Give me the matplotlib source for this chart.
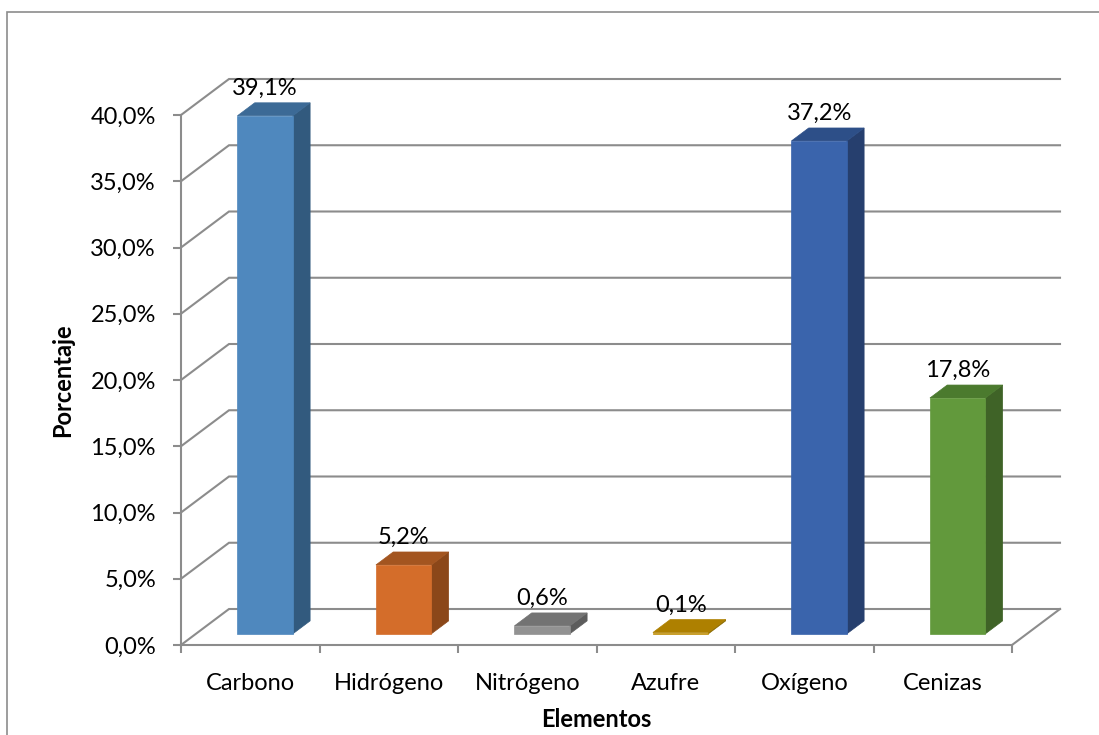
import matplotlib.pyplot as plt
from matplotlib.patches import Polygon, Rectangle

# Composicion elemental (%)
elementos = ['Carbono', 'Hidrógeno', 'Nitrógeno', 'Azufre', 'Oxígeno', 'Cenizas']
porcentaje = [39.1, 5.2, 0.6, 0.1, 37.2, 17.8]
yticks = [0, 5, 10, 15, 20, 25, 30, 35, 40]

# colores: cara frontal, lateral y superior
c_frente = ['#4f88be', '#d46d2a', '#929292', '#c09008', '#3a64ac', '#62993c']
c_lado = ['#325a7e', '#8b4719', '#5c5c5c', '#8a6a00', '#263f6e', '#3f6327']
c_techo = ['#3c6a96', '#a35520', '#737373', '#ae8000', '#2d4f88', '#4b7a2e']

plt.rcParams['font.family'] = ['Lato', 'DejaVu Sans']
gris = '#8c8c8c'

fig = plt.figure(figsize=(10.99, 7.35), dpi=100)
ax = fig.add_axes([181 / 1099, 90 / 735, 831 / 1099, 530 / 735])
ax.set_xlim(0, len(elementos))
ax.set_ylim(0, 40)

# profundidad del "3D" en unidades de datos
DX, DY = 0.3466, 2.717
f1, f2 = 0.31, 0.67
ancho = 0.4

# pared del fondo y lateral
for t in yticks:
    ax.plot([0, DX, len(elementos) + DX], [t, t + DY, t + DY],
            color=gris, lw=1.5, clip_on=False, zorder=1, solid_joinstyle='miter')
ax.plot([len(elementos), len(elementos) + DX], [0, DY], color=gris, lw=1.5,
        clip_on=False, zorder=1)

for i, v in enumerate(porcentaje):
    x0 = i + 0.5 - ancho / 2 + f1 * DX
    x1 = x0 + ancho
    y0 = f1 * DY
    dx = (f2 - f1) * DX
    dy = (f2 - f1) * DY
    frente = [(x0, y0), (x1, y0), (x1, y0 + v), (x0, y0 + v)]
    lado = [(x1, y0), (x1 + dx, y0 + dy), (x1 + dx, y0 + dy + v), (x1, y0 + v)]
    techo = [(x0, y0 + v), (x1, y0 + v), (x1 + dx, y0 + v + dy), (x0 + dx, y0 + v + dy)]
    for pts, col in [(lado, c_lado[i]), (techo, c_techo[i]), (frente, c_frente[i])]:
        ax.add_patch(Polygon(pts, closed=True, facecolor=col, edgecolor=col,
                             lw=0.5, clip_on=False, zorder=3))
    ax.annotate(f"{v:.1f}%".replace('.', ','), (x0 + ancho / 2, y0 + v + dy),
                xytext=(0, 3), textcoords='offset points', ha='center', va='bottom',
                fontsize=17, annotation_clip=False, zorder=4)

for s in ['top', 'right']:
    ax.spines[s].set_visible(False)
for s in ['left', 'bottom']:
    ax.spines[s].set_color(gris)
    ax.spines[s].set_linewidth(1.5)
    ax.spines[s].set_zorder(1)
ax.patch.set_alpha(0)

ax.set_yticks(yticks)
ax.set_yticklabels([f"{t:.1f}%".replace('.', ',') for t in yticks])
ax.tick_params(axis='y', length=6, width=1.5, color=gris, labelsize=17, pad=12)
ax.set_xticks(range(len(elementos) + 1))
ax.set_xticklabels([])
ax.tick_params(axis='x', which='major', length=6, width=1.5, color=gris)
ax.set_xticks([i + 0.5 for i in range(len(elementos))], minor=True)
ax.set_xticklabels(elementos, minor=True)
ax.tick_params(axis='x', which='minor', length=0, labelsize=17, pad=20)

ax.set_xlabel('Elementos', fontsize=17, fontweight='bold', labelpad=10)
ax.set_ylabel('Porcentaje', fontsize=17, fontweight='bold', labelpad=12)

# borde del area del grafico
fig.add_artist(Rectangle((7 / 1099, -0.1), 1.2, 1.1 - 12 / 735, transform=fig.transFigure,
                         fill=False, edgecolor=gris, lw=1.2))

fig.savefig('out.png', dpi=100)
